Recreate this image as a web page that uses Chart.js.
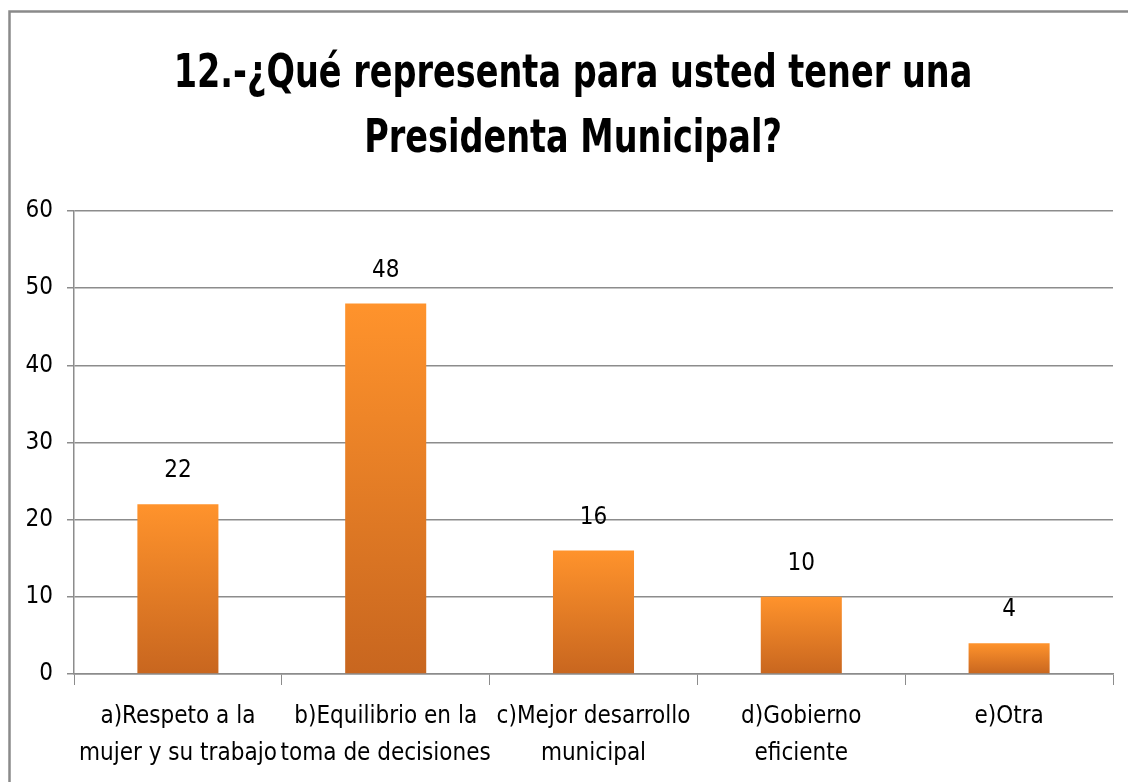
<!DOCTYPE html>
<html>
<head>
<meta charset="utf-8">
<script src="https://cdn.jsdelivr.net/npm/chart.js@4"></script>
<style>
  html, body { margin: 0; padding: 0; background: #fff; overflow: hidden; }
  #wrap { position: relative; width: 1128px; height: 782px; }
</style>
</head>
<body>
<div id="wrap"><canvas id="chart" width="1128" height="782"></canvas></div>
<script>
const FONT = "'DejaVu Sans Condensed', 'Liberation Sans', sans-serif";

const titleLines = ['12.-¿Qué representa para usted tener una', 'Presidenta Municipal?'];
const categories = [
    ['a)Respeto a la', 'mujer y su trabajo'],
    ['b)Equilibrio en la', 'toma de decisiones'],
    ['c)Mejor desarrollo', 'municipal'],
    ['d)Gobierno', 'eficiente'],
    ['e)Otra']
];
const values = [22, 48, 16, 10, 4];
const yTicks = [0, 10, 20, 30, 40, 50, 60];

// outer frame (only left and top edges are visible in the picture)
const framePlugin = {
    id: 'frame',
    beforeDraw(chart) {
        const c = chart.ctx;
        c.save();
        c.strokeStyle = '#8a8a8a';
        c.lineWidth = 2.5;
        c.strokeRect(9.5, 11.5, 1300, 1000);
        c.restore();
    }
};

// two-line bold title, squeezed a bit horizontally to imitate a narrow face
const titlePlugin = {
    id: 'narrowTitle',
    afterDraw(chart) {
        const c = chart.ctx;
        const rows = [75, 140];
        c.save();
        c.font = 'bold 46px ' + FONT;
        c.fillStyle = '#000';
        c.textAlign = 'center';
        c.textBaseline = 'middle';
        titleLines.forEach((line, i) => {
            c.save();
            c.translate(573, rows[i]);
            c.scale(0.81, 1);
            c.fillText(line, 0, 0);
            c.restore();
        });
        c.restore();
    }
};

// value labels above each bar
const valueLabels = {
    id: 'valueLabels',
    afterDatasetsDraw(chart) {
        const c = chart.ctx;
        const meta = chart.getDatasetMeta(0);
        c.save();
        c.font = '24px ' + FONT;
        c.fillStyle = '#000';
        c.textAlign = 'center';
        c.textBaseline = 'middle';
        meta.data.forEach((bar, i) => {
            c.fillText(String(values[i]), bar.x, bar.y - 33);
        });
        c.restore();
    }
};

function barFill(ctx) {
    const chart = ctx.chart;
    if (!chart.chartArea) return '#F0862A';
    const y = chart.scales.y;
    const top = y.getPixelForValue(ctx.raw);
    const base = y.getPixelForValue(0);
    const g = chart.ctx.createLinearGradient(0, top, 0, base);
    g.addColorStop(0, '#FF932C');
    g.addColorStop(1, '#C8661F');
    return g;
}

new Chart(document.getElementById('chart'), {
    type: 'bar',
    data: {
        labels: categories,
        datasets: [{
            data: values,
            backgroundColor: barFill,
            borderWidth: 0,
            categoryPercentage: 1,
            barPercentage: 0.39
        }]
    },
    options: {
        responsive: false,
        animation: false,
        layout: { padding: { left: 0, right: 15, top: 211, bottom: 0 } },
        plugins: {
            legend: { display: false },
            tooltip: { enabled: false },
            title: { display: false }
        },
        scales: {
            x: {
                grid: {
                    offset: true,
                    drawOnChartArea: false,
                    drawTicks: true,
                    tickLength: 11,
                    color: '#8c8c8c'
                },
                border: { display: true, color: '#8c8c8c', width: 1.5 },
                ticks: {
                    color: '#000',
                    font: { family: FONT, size: 24, lineHeight: 1.55 },
                    maxRotation: 0,
                    autoSkip: false,
                    padding: 13
                },
                afterFit(scale) { scale.height = 108; }
            },
            y: {
                min: 0,
                max: 60,
                afterBuildTicks(scale) { scale.ticks = yTicks.map(v => ({ value: v })); },
                grid: {
                    color: '#8c8c8c',
                    lineWidth: 1.5,
                    tickLength: 7
                },
                border: { display: true, color: '#8c8c8c', width: 1.5 },
                ticks: {
                    color: '#000',
                    font: { family: FONT, size: 24 },
                    padding: 14
                },
                afterFit(scale) { scale.width = 74; }
            }
        }
    },
    plugins: [framePlugin, titlePlugin, valueLabels]
});
</script>
</body>
</html>
